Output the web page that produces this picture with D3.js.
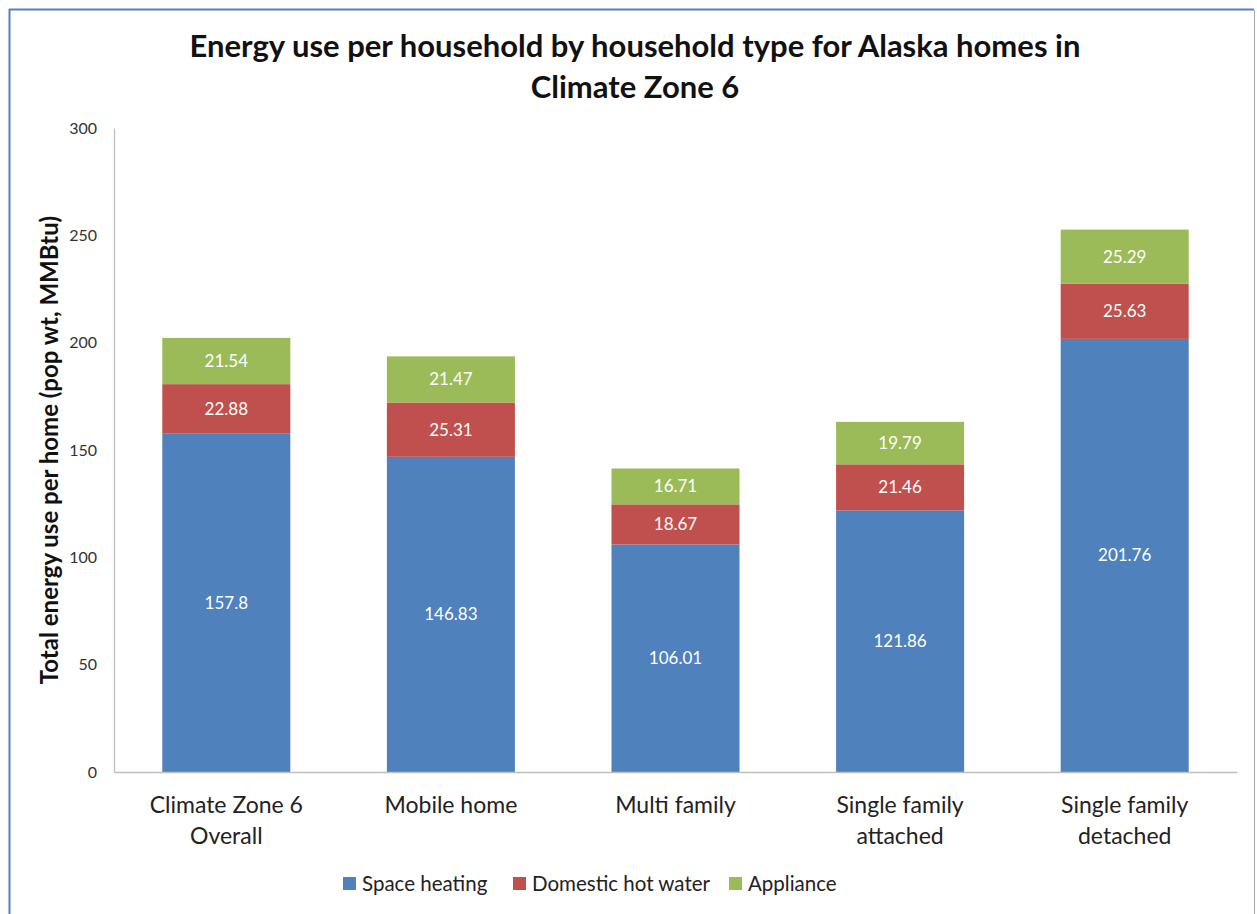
<!DOCTYPE html>
<html>
<head>
	<meta charset="utf-8" />
	<script src="https://cdnjs.cloudflare.com/ajax/libs/d3/7.8.5/d3.min.js"></script>
	<style>
		body { margin: 0; background: #fff; }
		svg text { font-family: Lato, "Open Sans", sans-serif; }
	</style>
</head>
<body>
<div id="chart"></div>
<script>

var categories = [["Climate Zone 6", "Overall"], ["Mobile home"], ["Multi family"], ["Single family", "attached"], ["Single family", "detached"]];
var seriesNames = ["Space heating", "Domestic hot water", "Appliance"];
var spaceHeating = [157.8, 146.83, 106.01, 121.86, 201.76];
var hotWater = [22.88, 25.31, 18.67, 21.46, 25.63];
var appliance = [21.54, 21.47, 16.71, 19.79, 25.29];
var yTicks = [0, 50, 100, 150, 200, 250, 300];
var colors = ["#4f81bd", "#c0504d", "#9bbb59"];

var W = 1257, H = 914;
var plotLeft = 114, plotRight = 1237, plotTop = 128, plotBottom = 772;

var svg = d3.select("#chart").append("svg")
	.attr("width", W)
	.attr("height", H);

// frame, like the screenshot
svg.append("rect").attr("x", 0).attr("y", 0).attr("width", W).attr("height", H).attr("fill", "#fff");
svg.append("line").attr("x1", 9).attr("x2", 1254).attr("y1", 9.5).attr("y2", 9.5).attr("stroke", "#4f81bd").attr("stroke-width", 2);
svg.append("line").attr("x1", 9.5).attr("x2", 9.5).attr("y1", 9).attr("y2", H).attr("stroke", "#4f81bd").attr("stroke-width", 2);
svg.append("line").attr("x1", 1254.5).attr("x2", 1254.5).attr("y1", 10).attr("y2", H).attr("stroke", "#a6a6a6").attr("stroke-width", 1);

var keys = categories.map(function(c){ return c.join(" "); });
var rows = keys.map(function(k, i){
	return { key: k, "Space heating": spaceHeating[i], "Domestic hot water": hotWater[i], "Appliance": appliance[i] };
});
var stack = d3.stack().keys(seriesNames)(rows);

var x = d3.scaleBand().domain(keys).range([plotLeft, plotRight]).paddingInner(0.43).paddingOuter(0.215);
var y = d3.scaleLinear().domain([0, 300]).range([plotBottom, plotTop]);

// y axis
var yAxis = svg.append("g")
	.attr("transform", "translate(" + plotLeft + ",0)")
	.call(d3.axisLeft(y).tickValues(yTicks).tickSize(0).tickPadding(17));
yAxis.select(".domain").attr("stroke", "#bfbfbf").attr("stroke-width", 1.3);
yAxis.selectAll("text").attr("font-size", 16).attr("fill", "#333");

// bars
var layers = svg.append("g").selectAll("g")
	.data(stack)
	.enter().append("g")
	.attr("fill", function(d, i){ return colors[i]; });

layers.selectAll("rect")
	.data(function(d){ return d; })
	.enter().append("rect")
	.attr("x", function(d){ return x(d.data.key); })
	.attr("y", function(d){ return y(d[1]); })
	.attr("width", x.bandwidth())
	.attr("height", function(d){ return y(d[0]) - y(d[1]); });

layers.selectAll("text")
	.data(function(d){ return d.map(function(p){ return { p: p, name: d.key }; }); })
	.enter().append("text")
	.attr("x", function(d){ return x(d.p.data.key) + x.bandwidth() / 2; })
	.attr("y", function(d){ return (y(d.p[0]) + y(d.p[1])) / 2; })
	.attr("dy", "0.35em")
	.attr("text-anchor", "middle")
	.attr("font-size", 17)
	.attr("fill", "#fff")
	.text(function(d){ return d.p.data[d.name]; });

// x axis
var xAxis = svg.append("g")
	.attr("transform", "translate(0," + plotBottom + ")")
	.call(d3.axisBottom(x).tickSize(0).tickFormat(""));
xAxis.select(".domain").attr("stroke", "#bfbfbf").attr("stroke-width", 1.3);

var catLabels = svg.append("g").selectAll("text")
	.data(categories)
	.enter().append("text")
	.attr("x", function(d, i){ return x(keys[i]) + x.bandwidth() / 2; })
	.attr("y", 813)
	.attr("text-anchor", "middle")
	.attr("font-size", 23)
	.attr("fill", "#222");
catLabels.selectAll("tspan")
	.data(function(d){ return d; })
	.enter().append("tspan")
	.attr("x", function(){ return d3.select(this.parentNode).attr("x"); })
	.attr("dy", function(d, i){ return i === 0 ? 0 : 31; })
	.text(function(d){ return d; });

// title
svg.append("text")
	.attr("x", 635).attr("y", 57)
	.attr("text-anchor", "middle")
	.attr("font-size", 31).attr("font-weight", "bold").attr("fill", "#111")
	.text("Energy use per household by household type for Alaska homes in");
svg.append("text")
	.attr("x", 635).attr("y", 98)
	.attr("text-anchor", "middle")
	.attr("font-size", 31).attr("font-weight", "bold").attr("fill", "#111")
	.text("Climate Zone 6");

// y title
svg.append("text")
	.attr("transform", "translate(58,450) rotate(-90)")
	.attr("text-anchor", "middle")
	.attr("font-size", 24).attr("font-weight", "bold").attr("fill", "#111")
	.text("Total energy use per home (pop wt, MMBtu)");

// legend
var legendX = [343, 513, 729];
var legend = svg.append("g").selectAll("g")
	.data(seriesNames)
	.enter().append("g")
	.attr("transform", function(d, i){ return "translate(" + legendX[i] + ",877)"; });
legend.append("rect")
	.attr("width", 13).attr("height", 13)
	.attr("fill", function(d, i){ return colors[i]; });
legend.append("text")
	.attr("x", 19).attr("y", 6.5).attr("dy", "0.35em")
	.attr("font-size", 20.5).attr("fill", "#222")
	.text(function(d){ return d; });

</script>
</body>
</html>
